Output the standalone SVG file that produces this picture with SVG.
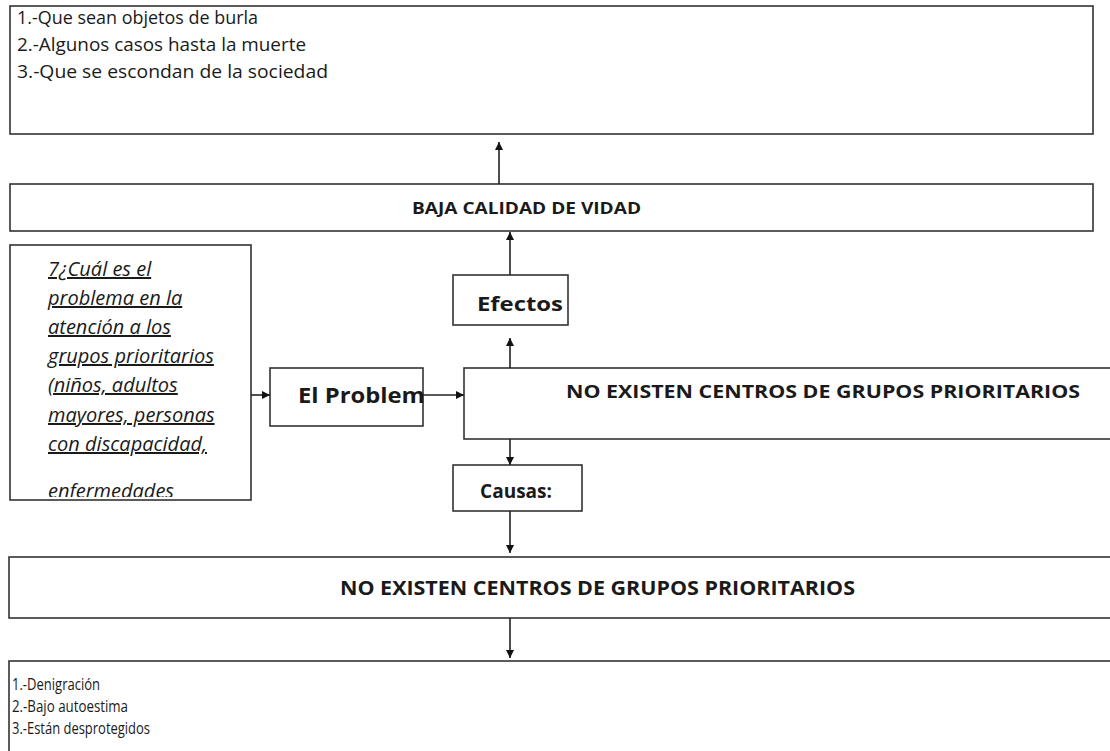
<svg xmlns="http://www.w3.org/2000/svg" width="1110" height="751" viewBox="0 0 1110 751">
<style>
.box{fill:#fff;stroke:#333;stroke-width:1.6}
.t{font-family:"Open Sans","Noto Sans",sans-serif;fill:#1a1a1a}
.b{font-weight:bold}
.it{font-style:italic;text-decoration:underline}
.c{stroke:#222;stroke-width:1.6;fill:none;marker-end:url(#ah)}
</style>
<defs>
<marker id="ah" viewBox="0 0 10 10" refX="10" refY="5" markerWidth="9" markerHeight="8" markerUnits="userSpaceOnUse" orient="auto">
<path d="M0,0 L10,5 L0,10 z" fill="#111"/>
</marker>
</defs>
<rect width="1110" height="751" fill="#fff"/>
<g id="efectos-lista">
<rect class="box" x="10" y="6" width="1083" height="128"/>
<text class="t" x="17" y="24" font-size="18.5" textLength="241" lengthAdjust="spacingAndGlyphs">1.-Que sean objetos de burla</text>
<text class="t" x="17" y="51" font-size="18.5" textLength="289" lengthAdjust="spacingAndGlyphs">2.-Algunos casos hasta la muerte</text>
<text class="t" x="17" y="78" font-size="18.5" textLength="311" lengthAdjust="spacingAndGlyphs">3.-Que se escondan de la sociedad</text>
</g>
<g id="baja-calidad">
<rect class="box" x="10" y="184" width="1083" height="47"/>
<text class="t b" x="412" y="214" font-size="16.5" textLength="229" lengthAdjust="spacingAndGlyphs">BAJA CALIDAD DE VIDAD</text>
</g>
<g id="pregunta">
<rect class="box" x="10" y="245" width="241" height="255"/>
<clipPath id="cl"><rect x="10" y="245" width="241" height="252"/></clipPath>
<g clip-path="url(#cl)" class="t it" font-size="20">
<text x="48" y="276">7¿Cuál es el</text>
<text x="48" y="305">problema en la</text>
<text x="48" y="334">atención a los</text>
<text x="48" y="363">grupos prioritarios</text>
<text x="48" y="392">(niños, adultos</text>
<text x="48" y="422">mayores, personas</text>
<text x="48" y="451">con discapacidad,</text>
<text x="48" y="498">enfermedades</text>
</g>
</g>
<g id="efectos">
<rect class="box" x="453" y="275" width="115" height="50"/>
<text class="t b" x="477" y="311" font-size="20" textLength="86" lengthAdjust="spacingAndGlyphs">Efectos</text>
</g>
<g id="el-problema">
<rect class="box" x="270" y="368" width="153" height="58"/>
<text class="t b" x="298" y="403" font-size="20.5" textLength="127" lengthAdjust="spacingAndGlyphs">El Problem</text>
</g>
<g id="problema">
<rect class="box" x="464" y="368" width="660" height="71"/>
<text class="t b" x="566" y="398" font-size="17" textLength="514" lengthAdjust="spacingAndGlyphs">NO EXISTEN CENTROS DE GRUPOS PRIORITARIOS</text>
</g>
<g id="causas">
<rect class="box" x="453" y="465" width="129" height="46"/>
<text class="t b" x="480" y="498" font-size="19" textLength="72" lengthAdjust="spacingAndGlyphs">Causas:</text>
</g>
<g id="causa-principal">
<rect class="box" x="9" y="557" width="1120" height="61"/>
<text class="t b" x="340" y="595" font-size="19" textLength="515" lengthAdjust="spacingAndGlyphs">NO EXISTEN CENTROS DE GRUPOS PRIORITARIOS</text>
</g>
<g id="causas-lista">
<rect class="box" x="9" y="661" width="1120" height="120"/>
<text class="t" x="12" y="690" font-size="16" textLength="88" lengthAdjust="spacingAndGlyphs">1.-Denigración</text>
<text class="t" x="12" y="712" font-size="16" textLength="116" lengthAdjust="spacingAndGlyphs">2.-Bajo autoestima</text>
<text class="t" x="12" y="734" font-size="16" textLength="138" lengthAdjust="spacingAndGlyphs">3.-Están desprotegidos</text>
</g>
<g id="connectors">
<line class="c" x1="499" y1="184" x2="499" y2="142"/>
<line class="c" x1="510" y1="275" x2="510" y2="232"/>
<line class="c" x1="510" y1="368" x2="510" y2="338"/>
<line class="c" x1="251" y1="395" x2="270" y2="395"/>
<line class="c" x1="423" y1="395" x2="464" y2="395"/>
<line class="c" x1="510" y1="439" x2="510" y2="465"/>
<line class="c" x1="510" y1="511" x2="510" y2="553"/>
<line class="c" x1="510" y1="618" x2="510" y2="658"/>
</g>
</svg>
